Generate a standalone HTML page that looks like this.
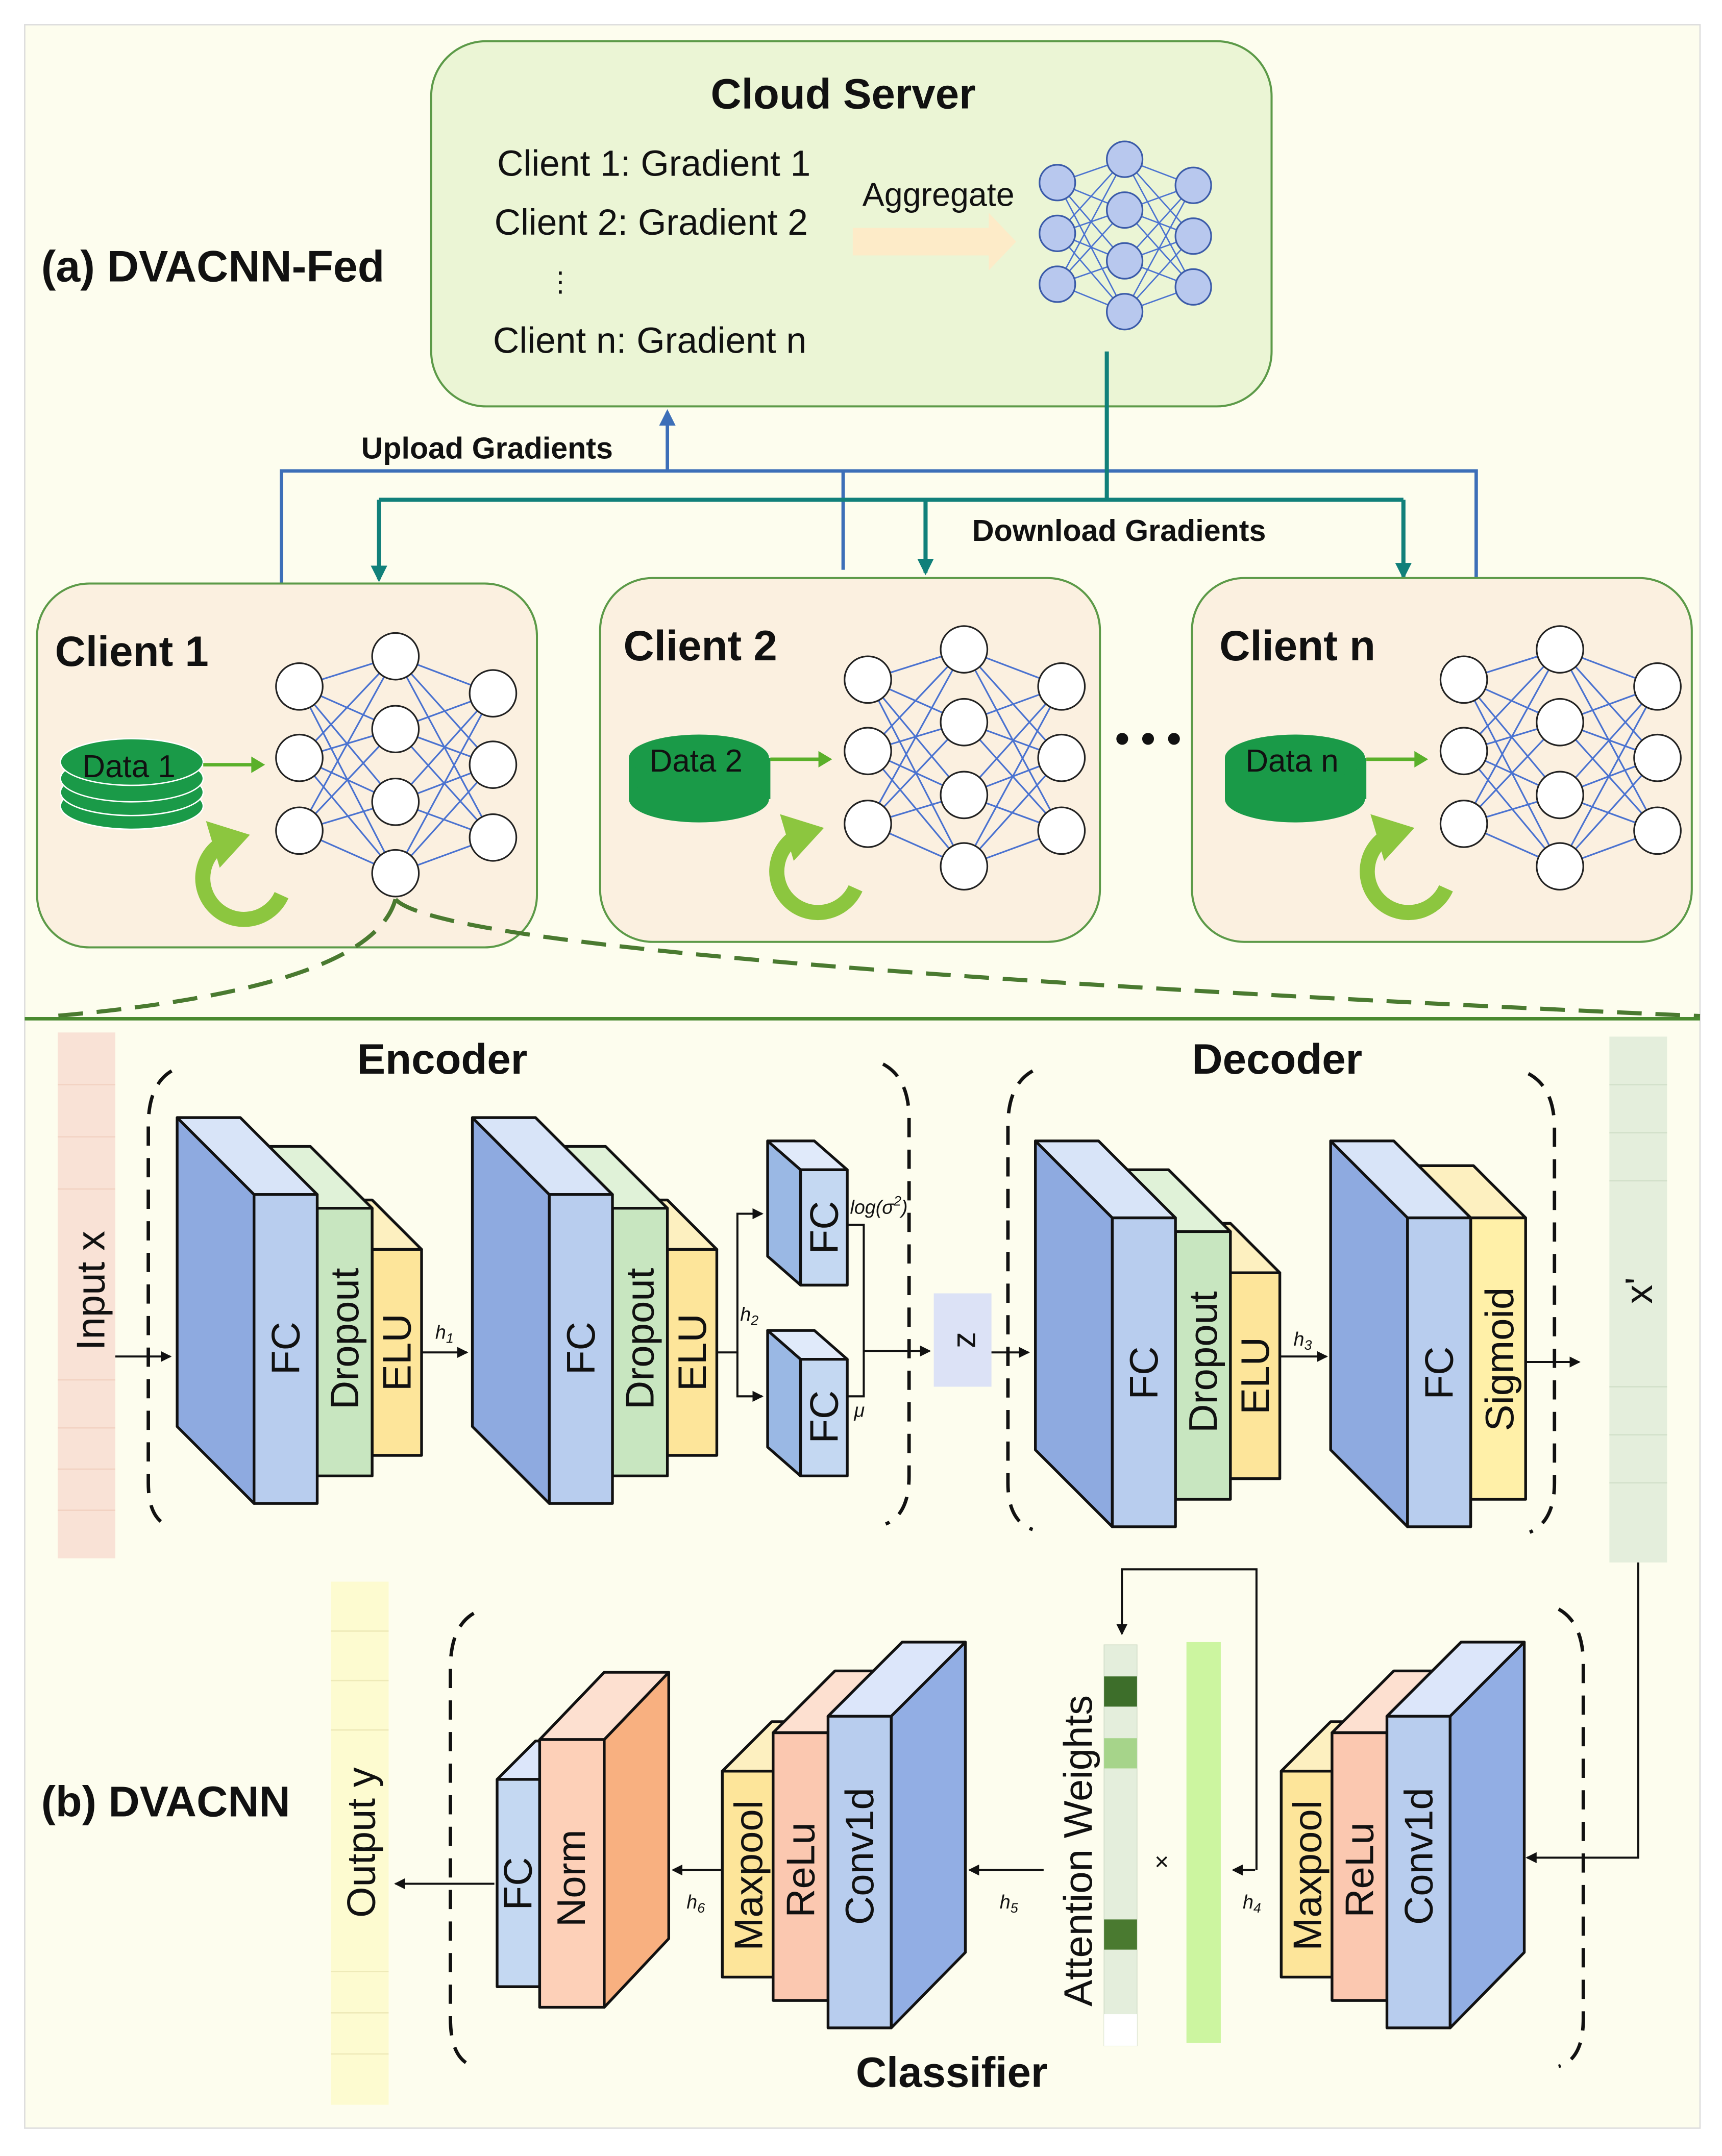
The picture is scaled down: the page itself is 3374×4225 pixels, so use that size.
<!DOCTYPE html>
<html><head><meta charset="utf-8"><style>
html,body{margin:0;padding:0;background:#fdfdf0}
svg{display:block}
text{font-family:"Liberation Sans",sans-serif;fill:#111}
.b{font-weight:bold}
</style></head><body>
<svg width="3374" height="4225" viewBox="0 0 1254 1570.3" preserveAspectRatio="none" xmlns="http://www.w3.org/2000/svg">
<defs>
<marker id="ak" markerWidth="8" markerHeight="8" refX="7" refY="4" orient="auto" markerUnits="userSpaceOnUse"><path d="M0,0 L8,4 L0,8z" fill="#111"/></marker>
<marker id="ab" markerWidth="12" markerHeight="12" refX="10" refY="6" orient="auto" markerUnits="userSpaceOnUse"><path d="M0,0 L12,6 L0,12z" fill="#3d6fb8"/></marker>
<marker id="at" markerWidth="12" markerHeight="12" refX="10" refY="6" orient="auto" markerUnits="userSpaceOnUse"><path d="M0,0 L12,6 L0,12z" fill="#11807a"/></marker>
<g id="net">
<g stroke="#4a72d0" stroke-width="1.2">
<line x1="218" y1="500" x2="288" y2="478"/><line x1="218" y1="500" x2="288" y2="531"/><line x1="218" y1="500" x2="288" y2="584"/><line x1="218" y1="500" x2="288" y2="636"/>
<line x1="218" y1="552" x2="288" y2="478"/><line x1="218" y1="552" x2="288" y2="531"/><line x1="218" y1="552" x2="288" y2="584"/><line x1="218" y1="552" x2="288" y2="636"/>
<line x1="218" y1="605" x2="288" y2="478"/><line x1="218" y1="605" x2="288" y2="531"/><line x1="218" y1="605" x2="288" y2="584"/><line x1="218" y1="605" x2="288" y2="636"/>
<line x1="359" y1="505" x2="288" y2="478"/><line x1="359" y1="505" x2="288" y2="531"/><line x1="359" y1="505" x2="288" y2="584"/><line x1="359" y1="505" x2="288" y2="636"/>
<line x1="359" y1="557" x2="288" y2="478"/><line x1="359" y1="557" x2="288" y2="531"/><line x1="359" y1="557" x2="288" y2="584"/><line x1="359" y1="557" x2="288" y2="636"/>
<line x1="359" y1="610" x2="288" y2="478"/><line x1="359" y1="610" x2="288" y2="531"/><line x1="359" y1="610" x2="288" y2="584"/><line x1="359" y1="610" x2="288" y2="636"/>
</g>
<g fill="#fff" stroke="#222" stroke-width="1.2">
<circle cx="218" cy="500" r="17"/><circle cx="218" cy="552" r="17"/><circle cx="218" cy="605" r="17"/>
<circle cx="288" cy="478" r="17"/><circle cx="288" cy="531" r="17"/><circle cx="288" cy="584" r="17"/><circle cx="288" cy="636" r="17"/>
<circle cx="359" cy="505" r="17"/><circle cx="359" cy="557" r="17"/><circle cx="359" cy="610" r="17"/>
</g>
</g>
<g id="cyc">
<path d="M205,652 A30,30 0 1 1 166,612" fill="none" stroke="#8cc63f" stroke-width="11"/>
<path d="M150,598 L182,608 L160,632z" fill="#8cc63f"/>
</g>
</defs>
<rect x="0" y="0" width="1254" height="1571" fill="#fff"/>
<rect x="18" y="18" width="1220" height="1532" fill="#fdfdee" stroke="#ddd" stroke-width="1"/>

<rect x="314" y="30" width="612" height="266" rx="40" fill="#ebf5d5" stroke="#5c9a48" stroke-width="1.5"/>
<text x="614" y="79" font-size="31" class="b" text-anchor="middle">Cloud Server</text>
<text x="362" y="128" font-size="26.5">Client 1: Gradient 1</text>
<text x="360" y="171" font-size="26.5">Client 2: Gradient 2</text>
<text x="398" y="212" font-size="20">⋮</text>
<text x="359" y="257" font-size="26.5">Client n: Gradient n</text>
<text x="628" y="150" font-size="24">Aggregate</text>
<path d="M621,166 L720,166 L720,155 L740,176 L720,197 L720,186 L621,186z" fill="#fdebc8"/>
<g stroke="#4a72d0" stroke-width="1">
<line x1="770" y1="133" x2="819" y2="116"/><line x1="770" y1="133" x2="819" y2="153"/><line x1="770" y1="133" x2="819" y2="190"/><line x1="770" y1="133" x2="819" y2="227"/>
<line x1="770" y1="170" x2="819" y2="116"/><line x1="770" y1="170" x2="819" y2="153"/><line x1="770" y1="170" x2="819" y2="190"/><line x1="770" y1="170" x2="819" y2="227"/>
<line x1="770" y1="207" x2="819" y2="116"/><line x1="770" y1="207" x2="819" y2="153"/><line x1="770" y1="207" x2="819" y2="190"/><line x1="770" y1="207" x2="819" y2="227"/>
<line x1="869" y1="135" x2="819" y2="116"/><line x1="869" y1="135" x2="819" y2="153"/><line x1="869" y1="135" x2="819" y2="190"/><line x1="869" y1="135" x2="819" y2="227"/>
<line x1="869" y1="172" x2="819" y2="116"/><line x1="869" y1="172" x2="819" y2="153"/><line x1="869" y1="172" x2="819" y2="190"/><line x1="869" y1="172" x2="819" y2="227"/>
<line x1="869" y1="209" x2="819" y2="116"/><line x1="869" y1="209" x2="819" y2="153"/><line x1="869" y1="209" x2="819" y2="190"/><line x1="869" y1="209" x2="819" y2="227"/>
</g>
<g fill="#b8c8ee" stroke="#3a5aa8" stroke-width="1.2">
<circle cx="770" cy="133" r="13"/><circle cx="770" cy="170" r="13"/><circle cx="770" cy="207" r="13"/>
<circle cx="819" cy="116" r="13"/><circle cx="819" cy="153" r="13"/><circle cx="819" cy="190" r="13"/><circle cx="819" cy="227" r="13"/>
<circle cx="869" cy="135" r="13"/><circle cx="869" cy="172" r="13"/><circle cx="869" cy="209" r="13"/>
</g>
<text x="30" y="205" font-size="32" class="b">(a) DVACNN-Fed</text>

<g fill="none" stroke="#3d6fb8" stroke-width="2.5">
<path d="M205,425 V343 H1075 V421"/><path d="M614,343 V415"/>
<path d="M486,343 V300" marker-end="url(#ab)"/>
</g>
<g fill="none" stroke="#11807a" stroke-width="3">
<path d="M806,256 V364"/><path d="M276,364 H1022"/>
<path d="M276,364 V422" marker-end="url(#at)"/>
<path d="M674,364 V417" marker-end="url(#at)"/>
<path d="M1022,364 V420" marker-end="url(#at)"/>
</g>
<text x="263" y="334" font-size="22" class="b">Upload Gradients</text>
<text x="708" y="394" font-size="22" class="b">Download Gradients</text>

<rect x="27" y="425" width="364" height="265" rx="38" fill="#fbf0e0" stroke="#5c9a48" stroke-width="1.5"/>
<rect x="437" y="421" width="364" height="265" rx="38" fill="#fbf0e0" stroke="#5c9a48" stroke-width="1.5"/>
<rect x="868" y="421" width="364" height="265" rx="38" fill="#fbf0e0" stroke="#5c9a48" stroke-width="1.5"/>
<text x="40" y="485" font-size="31" class="b">Client 1</text>
<text x="454" y="481" font-size="31" class="b">Client 2</text>
<text x="888" y="481" font-size="31" class="b">Client n</text>
<text x="812" y="548" font-size="30" class="b">• • •</text>
<use href="#net"/>
<use href="#net" transform="translate(414,-5)"/>
<use href="#net" transform="translate(848,-5)"/>
<g fill="#1a9a48" stroke="#fff" stroke-width="1">
<ellipse cx="96" cy="587" rx="52" ry="17"/><ellipse cx="96" cy="577" rx="52" ry="17"/><ellipse cx="96" cy="567" rx="52" ry="17"/><ellipse cx="96" cy="555" rx="52" ry="17"/>
</g>
<g fill="#1a9a48"><rect x="458" y="552" width="103" height="30"/><ellipse cx="509" cy="582" rx="51" ry="17"/><ellipse cx="509" cy="552" rx="51" ry="17"/></g>
<g fill="#1a9a48"><rect x="892" y="552" width="103" height="30"/><ellipse cx="943" cy="582" rx="51" ry="17"/><ellipse cx="943" cy="552" rx="51" ry="17"/></g>
<text x="60" y="566" font-size="23" fill="#111">Data 1</text>
<text x="473" y="562" font-size="23">Data 2</text>
<text x="907" y="562" font-size="23">Data n</text>
<g stroke="#5ab02a" stroke-width="2.5"><line x1="148" y1="557" x2="185" y2="557"/><line x1="561" y1="553" x2="598" y2="553"/><line x1="995" y1="553" x2="1032" y2="553"/></g>
<g fill="#5ab02a"><path d="M183,551 L193,557 L183,563z"/><path d="M596,547 L606,553 L596,559z"/><path d="M1030,547 L1040,553 L1030,559z"/></g>
<use href="#cyc"/>
<use href="#cyc" transform="translate(418,-5)"/>
<use href="#cyc" transform="translate(848,-5)"/>
<g fill="none" stroke="#4a7a30" stroke-width="3" stroke-dasharray="18,10">
<path d="M288,655 Q270,720 40,740"/><path d="M288,655 Q330,700 1238,740"/>
</g>
<line x1="18" y1="742" x2="1238" y2="742" stroke="#4a8a30" stroke-width="2.5"/>

<rect x="42" y="752" width="42" height="383" fill="#f9e2d6"/>
<g stroke="#f2d2c2" stroke-width="1"><line x1="42" y1="790" x2="84" y2="790"/><line x1="42" y1="828" x2="84" y2="828"/><line x1="42" y1="866" x2="84" y2="866"/><line x1="42" y1="1005" x2="84" y2="1005"/><line x1="42" y1="1040" x2="84" y2="1040"/><line x1="42" y1="1070" x2="84" y2="1070"/><line x1="42" y1="1100" x2="84" y2="1100"/></g>
<text transform="translate(76,940) rotate(-90)" font-size="29" text-anchor="middle">Input x</text>
<rect x="1172" y="755" width="42" height="383" fill="#e4eedc"/>
<g stroke="#d2e0ca"><line x1="1172" y1="790" x2="1214" y2="790"/><line x1="1172" y1="825" x2="1214" y2="825"/><line x1="1172" y1="860" x2="1214" y2="860"/><line x1="1172" y1="1010" x2="1214" y2="1010"/><line x1="1172" y1="1045" x2="1214" y2="1045"/><line x1="1172" y1="1080" x2="1214" y2="1080"/></g>
<text transform="translate(1203,940) rotate(-90)" font-size="28" text-anchor="middle">x'</text>

<text x="322" y="782" font-size="31" class="b" text-anchor="middle">Encoder</text>
<text x="930" y="782" font-size="31" class="b" text-anchor="middle">Decoder</text>
<g fill="none" stroke="#111" stroke-width="2.5" stroke-dasharray="14,9">
<path d="M125,780 Q108,790 108,820 V1080 Q108,1108 125,1112"/>
<path d="M643,775 Q662,785 662,815 V1075 Q662,1103 645,1110"/>
<path d="M752,780 Q734,790 734,820 V1080 Q734,1108 752,1114"/>
<path d="M1113,782 Q1132,792 1132,822 V1080 Q1132,1108 1114,1116"/>
<path d="M345,1175 Q328,1185 328,1215 V1470 Q328,1500 345,1505"/>
<path d="M1135,1172 Q1153,1182 1153,1212 V1470 Q1153,1500 1135,1505"/>
</g>

<g stroke="#111" stroke-width="2" stroke-linejoin="round">
<polygon points="235,874 271,910 271,1060 235,1024" fill="#f3cf70"/><polygon points="235,874 271,874 307,910 271,910" fill="#fdf0c0"/><rect x="271" y="910" width="36" height="150" fill="#fde59a"/>
<polygon points="186,835 231,880 231,1075 186,1030" fill="#a8d8a0"/><polygon points="186,835 226,835 271,880 231,880" fill="#e0f2d8"/><rect x="231" y="880" width="40" height="195" fill="#c8e6c0"/>
<polygon points="129,814 185,870 185,1095 129,1039" fill="#8eaae0"/><polygon points="129,814 175,814 231,870 185,870" fill="#d8e4f8"/><rect x="185" y="870" width="46" height="225" fill="#b8cdee"/>
<polygon points="450,874 486,910 486,1060 450,1024" fill="#f3cf70"/><polygon points="450,874 486,874 522,910 486,910" fill="#fdf0c0"/><rect x="486" y="910" width="36" height="150" fill="#fde59a"/>
<polygon points="401,835 446,880 446,1075 401,1030" fill="#a8d8a0"/><polygon points="401,835 441,835 486,880 446,880" fill="#e0f2d8"/><rect x="446" y="880" width="40" height="195" fill="#c8e6c0"/>
<polygon points="344,814 400,870 400,1095 344,1039" fill="#8eaae0"/><polygon points="344,814 390,814 446,870 400,870" fill="#d8e4f8"/><rect x="400" y="870" width="46" height="225" fill="#b8cdee"/>
<polygon points="559,831 583,852 583,936 559,915" fill="#9ab8e4"/><polygon points="559,831 593,831 617,852 583,852" fill="#e0eafa"/><rect x="583" y="852" width="34" height="84" fill="#c4d8f2"/>
<polygon points="559,969 583,990 583,1075 559,1054" fill="#9ab8e4"/><polygon points="559,969 593,969 617,990 583,990" fill="#e0eafa"/><rect x="583" y="990" width="34" height="85" fill="#c4d8f2"/>
<polygon points="860,891 896,927 896,1077 860,1041" fill="#f3cf70"/><polygon points="860,891 896,891 932,927 896,927" fill="#fdf0c0"/><rect x="896" y="927" width="36" height="150" fill="#fde59a"/>
<polygon points="811,852 856,897 856,1092 811,1047" fill="#a8d8a0"/><polygon points="811,852 851,852 896,897 856,897" fill="#e0f2d8"/><rect x="856" y="897" width="40" height="195" fill="#c8e6c0"/>
<polygon points="754,831 810,887 810,1112 754,1056" fill="#8eaae0"/><polygon points="754,831 800,831 856,887 810,887" fill="#d8e4f8"/><rect x="810" y="887" width="46" height="225" fill="#b8cdee"/>
<polygon points="1033,849 1071,887 1071,1092 1033,1054" fill="#f3cf70"/><polygon points="1033,849 1073,849 1111,887 1071,887" fill="#fdf0c0"/><rect x="1071" y="887" width="40" height="205" fill="#fff0a8"/>
<polygon points="969,831 1025,887 1025,1112 969,1056" fill="#8eaae0"/><polygon points="969,831 1015,831 1071,887 1025,887" fill="#d8e4f8"/><rect x="1025" y="887" width="46" height="225" fill="#b8cdee"/>
</g>
<rect x="680" y="942" width="42" height="68" fill="#dce2f6"/>
<text transform="translate(710,976) rotate(-90)" font-size="24" text-anchor="middle">z</text>
<g font-size="29">
<text transform="translate(218,982) rotate(-90)" text-anchor="middle">FC</text>
<text transform="translate(261,975) rotate(-90)" text-anchor="middle">Dropout</text>
<text transform="translate(299,985) rotate(-90)" text-anchor="middle">ELU</text>
<text transform="translate(433,982) rotate(-90)" text-anchor="middle">FC</text>
<text transform="translate(476,975) rotate(-90)" text-anchor="middle">Dropout</text>
<text transform="translate(514,985) rotate(-90)" text-anchor="middle">ELU</text>
<text transform="translate(610,894) rotate(-90)" text-anchor="middle">FC</text>
<text transform="translate(610,1032) rotate(-90)" text-anchor="middle">FC</text>
<text transform="translate(843,1000) rotate(-90)" text-anchor="middle">FC</text>
<text transform="translate(886,992) rotate(-90)" text-anchor="middle">Dropout</text>
<text transform="translate(924,1002) rotate(-90)" text-anchor="middle">ELU</text>
<text transform="translate(1058,1000) rotate(-90)" text-anchor="middle">FC</text>
<text transform="translate(1102,990) rotate(-90)" text-anchor="middle">Sigmoid</text>
</g>
<g fill="none" stroke="#111" stroke-width="1.5">
<path d="M84,988 H124" marker-end="url(#ak)"/>
<path d="M307,985 H340" marker-end="url(#ak)"/>
<path d="M522,985 H537 V884 H555" marker-end="url(#ak)"/>
<path d="M537,985 V1017 H555" marker-end="url(#ak)"/>
<path d="M617,892 H629 V1017 H617"/>
<path d="M629,984 H677" marker-end="url(#ak)"/>
<path d="M722,985 H749" marker-end="url(#ak)"/>
<path d="M932,988 H966" marker-end="url(#ak)"/>
<path d="M1111,992 H1150" marker-end="url(#ak)"/>
<path d="M1193,1138 V1353 H1112" marker-end="url(#ak)"/>
<path d="M914,1362 H898" marker-end="url(#ak)"/>
<path d="M915,1362 V1143 H817 V1190" marker-end="url(#ak)"/>
<path d="M760,1362 H706" marker-end="url(#ak)"/>
<path d="M526,1362 H490" marker-end="url(#ak)"/>
<path d="M360,1372 H288" marker-end="url(#ak)"/>
</g>
<g font-size="14" font-style="italic">
<text x="317" y="975">h<tspan font-size="10" dy="3">1</tspan></text>
<text x="539" y="962">h<tspan font-size="10" dy="3">2</tspan></text>
<text x="619" y="884">log(σ<tspan font-size="10" dy="-6">2</tspan><tspan dy="6">)</tspan></text>
<text x="622" y="1032">μ</text>
<text x="942" y="980">h<tspan font-size="10" dy="3">3</tspan></text>
<text x="905" y="1390">h<tspan font-size="10" dy="3">4</tspan></text>
<text x="728" y="1390">h<tspan font-size="10" dy="3">5</tspan></text>
<text x="500" y="1390">h<tspan font-size="10" dy="3">6</tspan></text>
</g>

<g stroke="#111" stroke-width="2" stroke-linejoin="round">
<polygon points="970,1290 1006,1254 1006,1404 970,1440" fill="#f3cf70"/><polygon points="933,1290 969,1254 1006,1254 970,1290" fill="#fdf0c0"/><rect x="933" y="1290" width="37" height="150" fill="#fde59a"/>
<polygon points="1010,1262 1055,1217 1055,1412 1010,1457" fill="#f7a888"/><polygon points="970,1262 1015,1217 1055,1217 1010,1262" fill="#fde0d0"/><rect x="970" y="1262" width="40" height="195" fill="#fbc8b0"/>
<polygon points="1056,1250 1110,1196 1110,1422 1056,1477" fill="#92aee4"/><polygon points="1010,1250 1064,1196 1110,1196 1056,1250" fill="#dce6fa"/><rect x="1010" y="1250" width="46" height="227" fill="#b8cdee"/>
<polygon points="563,1290 599,1254 599,1404 563,1440" fill="#f3cf70"/><polygon points="526,1290 562,1254 599,1254 563,1290" fill="#fdf0c0"/><rect x="526" y="1290" width="37" height="150" fill="#fde59a"/>
<polygon points="603,1262 648,1217 648,1412 603,1457" fill="#f7a888"/><polygon points="563,1262 608,1217 648,1217 603,1262" fill="#fde0d0"/><rect x="563" y="1262" width="40" height="195" fill="#fbc8b0"/>
<polygon points="649,1250 703,1196 703,1422 649,1477" fill="#92aee4"/><polygon points="603,1250 657,1196 703,1196 649,1250" fill="#dce6fa"/><rect x="603" y="1250" width="46" height="227" fill="#b8cdee"/>
<polygon points="393,1296 421,1268 421,1420 393,1447" fill="#9ab8e4"/><polygon points="362,1296 390,1268 421,1268 393,1296" fill="#dce6fa"/><rect x="362" y="1296" width="31" height="151" fill="#c4d8f2"/>
<polygon points="440,1267 487,1218 487,1412 440,1462" fill="#f8b080"/><polygon points="393,1267 440,1218 487,1218 440,1267" fill="#fde0d0"/><rect x="393" y="1267" width="47" height="195" fill="#fdd0b8"/>
</g>
<rect x="804" y="1198" width="24" height="292" fill="#e4eedc" stroke="#d0dcc8" stroke-width="0.6"/>
<rect x="804" y="1221" width="24" height="22" fill="#3d6e2a"/>
<rect x="804" y="1266" width="24" height="22" fill="#a6d48a"/>
<rect x="804" y="1398" width="24" height="22" fill="#4a7a30"/>
<rect x="804" y="1467" width="24" height="23" fill="#fff"/>
<rect x="864" y="1196" width="25" height="292" fill="#ccf5a0"/>
<text x="846" y="1362" font-size="18" text-anchor="middle">×</text>
<rect x="241" y="1152" width="42" height="381" fill="#fdfbd0"/>
<g stroke="#eeeab8"><line x1="241" y1="1188" x2="283" y2="1188"/><line x1="241" y1="1224" x2="283" y2="1224"/><line x1="241" y1="1260" x2="283" y2="1260"/><line x1="241" y1="1436" x2="283" y2="1436"/><line x1="241" y1="1466" x2="283" y2="1466"/><line x1="241" y1="1496" x2="283" y2="1496"/></g>
<g font-size="29">
<text transform="translate(962,1366) rotate(-90)" text-anchor="middle">Maxpool</text>
<text transform="translate(1000,1362) rotate(-90)" text-anchor="middle">ReLu</text>
<text transform="translate(1043,1352) rotate(-90)" text-anchor="middle">Conv1d</text>
<text transform="translate(555,1366) rotate(-90)" text-anchor="middle">Maxpool</text>
<text transform="translate(593,1362) rotate(-90)" text-anchor="middle">ReLu</text>
<text transform="translate(636,1352) rotate(-90)" text-anchor="middle">Conv1d</text>
<text transform="translate(387,1372) rotate(-90)" text-anchor="middle">FC</text>
<text transform="translate(426,1368) rotate(-90)" text-anchor="middle">Norm</text>
<text transform="translate(273,1342) rotate(-90)" text-anchor="middle">Output y</text>
<text transform="translate(795,1348) rotate(-90)" text-anchor="middle">Attention Weights</text>
</g>
<text x="30" y="1323" font-size="31.5" class="b">(b) DVACNN</text>
<text x="693" y="1520" font-size="31" class="b" text-anchor="middle">Classifier</text>
</svg>
</body></html>
